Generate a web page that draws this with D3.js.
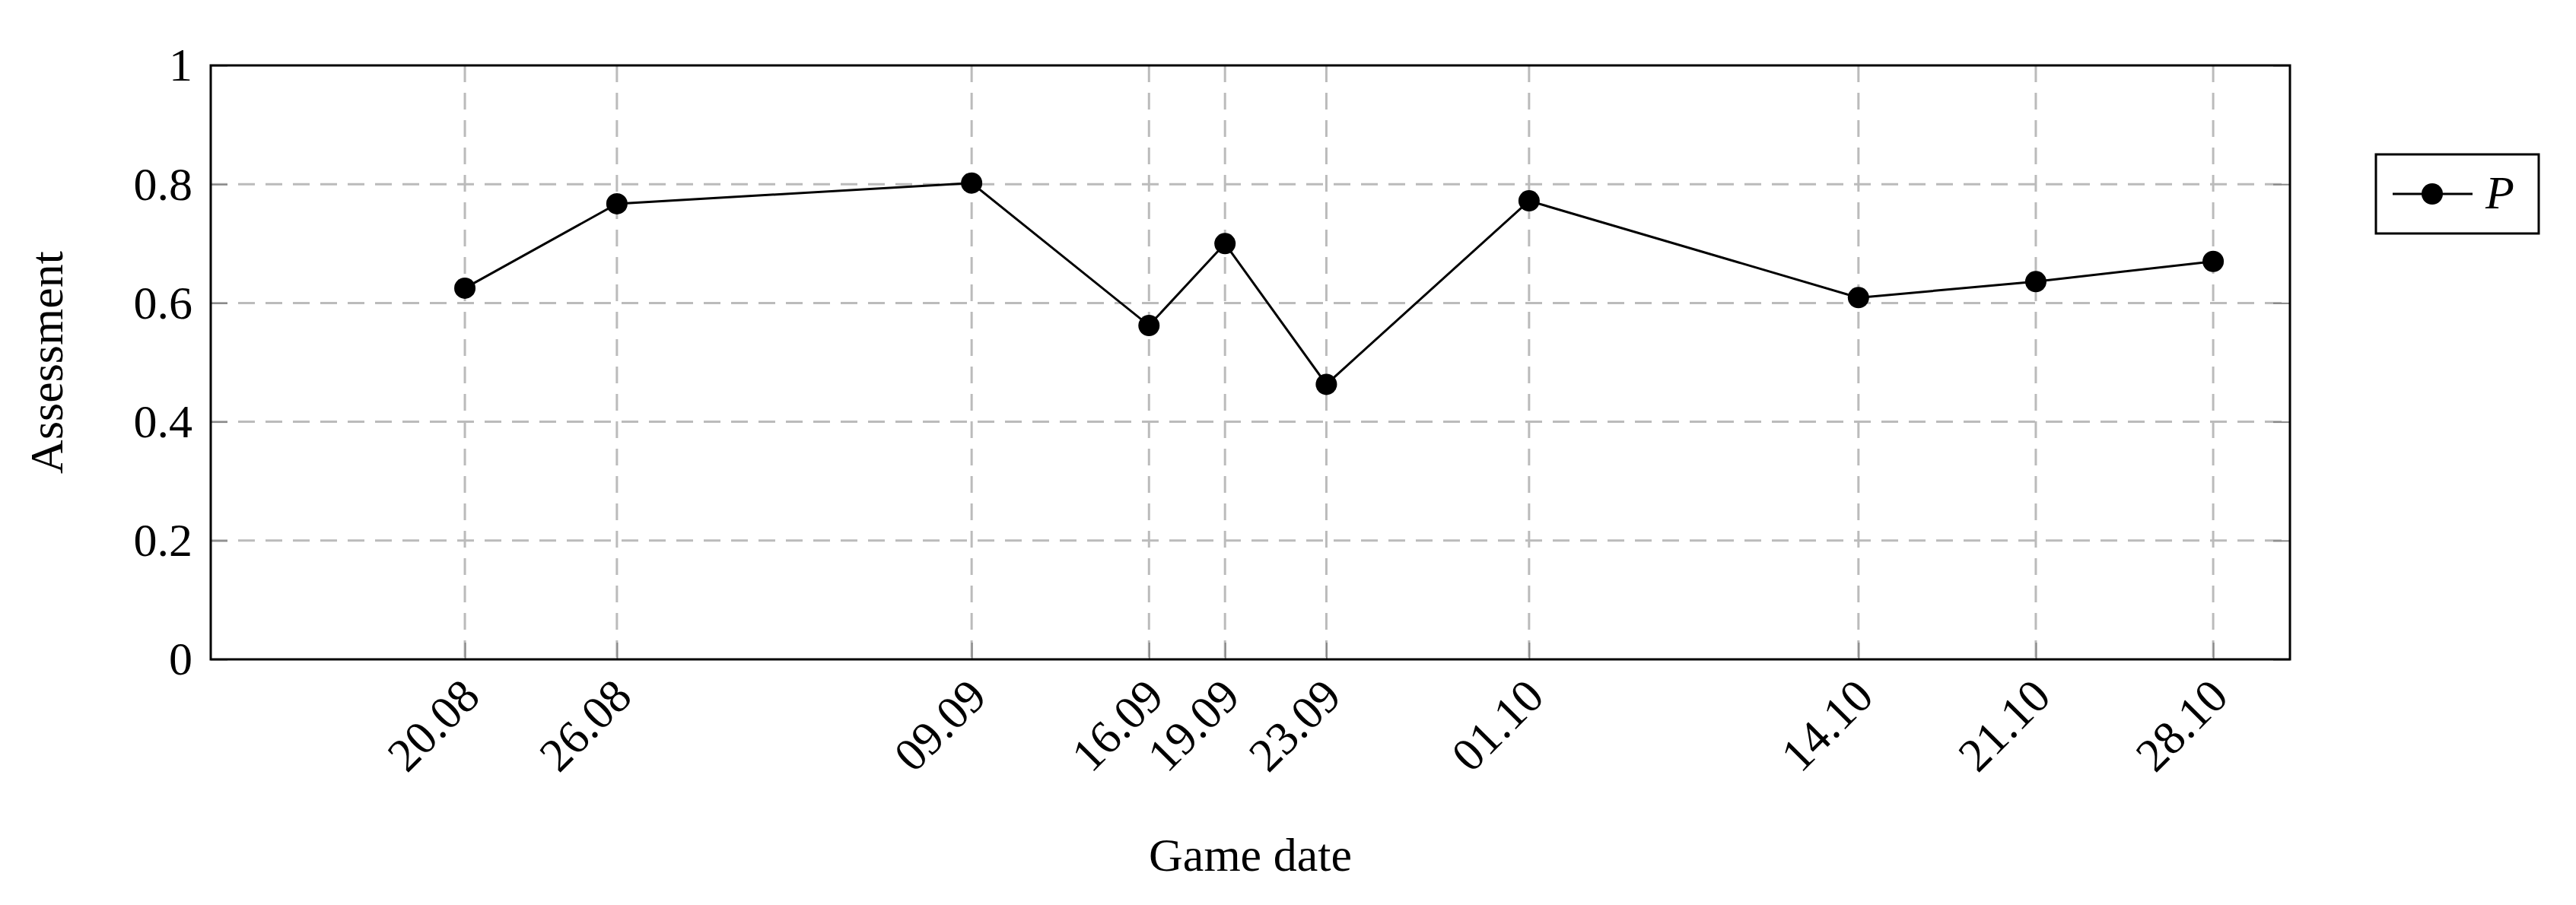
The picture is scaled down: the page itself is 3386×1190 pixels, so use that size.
<!DOCTYPE html><html><head><script src="https://cdn.jsdelivr.net/npm/d3@7"></script>
<style>body{margin:0;background:#fff}text{font-family:"Liberation Serif",serif;fill:#000}</style></head><body>
<svg id="c" width="3386" height="1190"></svg>
<script>
const dateLabels=["20.08","26.08","09.09","16.09","19.09","23.09","01.10","14.10","21.10","28.10"];
const dayIndex=[19,25,39,46,49,53,61,74,81,88]; // days since 1 Aug
const values=[0.625,0.767,0.802,0.562,0.700,0.463,0.772,0.609,0.636,0.670];
const yTicks=[0,0.2,0.4,0.6,0.8,1];
const L=277,R=3010,T=86,B=867;
const svg=d3.select("#c");
const x=d3.scaleLinear().domain([8.97,91.03]).range([L,R]);
const y=d3.scaleLinear().domain([0,1]).range([B,T]);
const g=svg.append("g");
g.selectAll(".gx").data(dayIndex).join("line").attr("x1",d=>x(d)).attr("x2",d=>x(d)).attr("y1",T).attr("y2",B)
 .attr("stroke","#bbb").attr("stroke-width",3).attr("stroke-dasharray","22,14");
g.selectAll(".gy").data(yTicks.slice(1,5)).join("line").attr("y1",d=>y(d)).attr("y2",d=>y(d)).attr("x1",L).attr("x2",R)
 .attr("stroke","#bbb").attr("stroke-width",3).attr("stroke-dasharray","22,14");
const xa=svg.append("g").attr("transform",`translate(0,${B})`).call(d3.axisBottom(x).tickValues(dayIndex).tickFormat((d,i)=>dateLabels[i]).tickSize(-22).tickPadding(0));
xa.select(".domain").remove();
xa.selectAll("line").attr("stroke","#888").attr("stroke-width",2);
xa.selectAll("text").attr("font-size",62).attr("text-anchor","end").attr("dy","0").attr("y",0)
 .attr("transform","translate(22,52) rotate(-45)");
const ya=svg.append("g").attr("transform",`translate(${L},0)`).call(d3.axisLeft(y).tickValues(yTicks).tickFormat(d=>d).tickSize(-22).tickPadding(24));
ya.select(".domain").remove();
ya.selectAll("line").attr("stroke","#888").attr("stroke-width",2);
ya.selectAll("text").attr("font-size",62);
const ya2=svg.append("g").attr("transform",`translate(${R},0)`).call(d3.axisRight(y).tickValues(yTicks).tickFormat("").tickSize(-22));
ya2.select(".domain").remove(); ya2.selectAll("line").attr("stroke","#888").attr("stroke-width",2);
svg.append("rect").attr("x",L).attr("y",T).attr("width",R-L).attr("height",B-T).attr("fill","none").attr("stroke","#000").attr("stroke-width",3);
svg.append("path").datum(dayIndex.map((d,i)=>[d,values[i]])).attr("fill","none").attr("stroke","#000").attr("stroke-width",3)
 .attr("d",d3.line().x(d=>x(d[0])).y(d=>y(d[1])));
svg.selectAll(".pt").data(values).join("circle").attr("cx",(d,i)=>x(dayIndex[i])).attr("cy",d=>y(d)).attr("r",14).attr("fill","#000");
svg.append("text").attr("x",(L+R)/2).attr("y",1145).attr("text-anchor","middle").attr("font-size",62).text("Game date");
svg.append("text").attr("transform",`translate(82,${(T+B)/2}) rotate(-90)`).attr("text-anchor","middle").attr("font-size",62).text("Assessment");
const lg=svg.append("g");
lg.append("rect").attr("x",3123).attr("y",203).attr("width",214).attr("height",104).attr("fill","#fff").attr("stroke","#000").attr("stroke-width",3);
lg.append("line").attr("x1",3145).attr("x2",3250).attr("y1",255).attr("y2",255).attr("stroke","#000").attr("stroke-width",3);
lg.append("circle").attr("cx",3197).attr("cy",255).attr("r",14).attr("fill","#000");
lg.append("text").attr("x",3267).attr("y",274).attr("font-size",62).attr("font-style","italic").text("P");
</script></body></html>
